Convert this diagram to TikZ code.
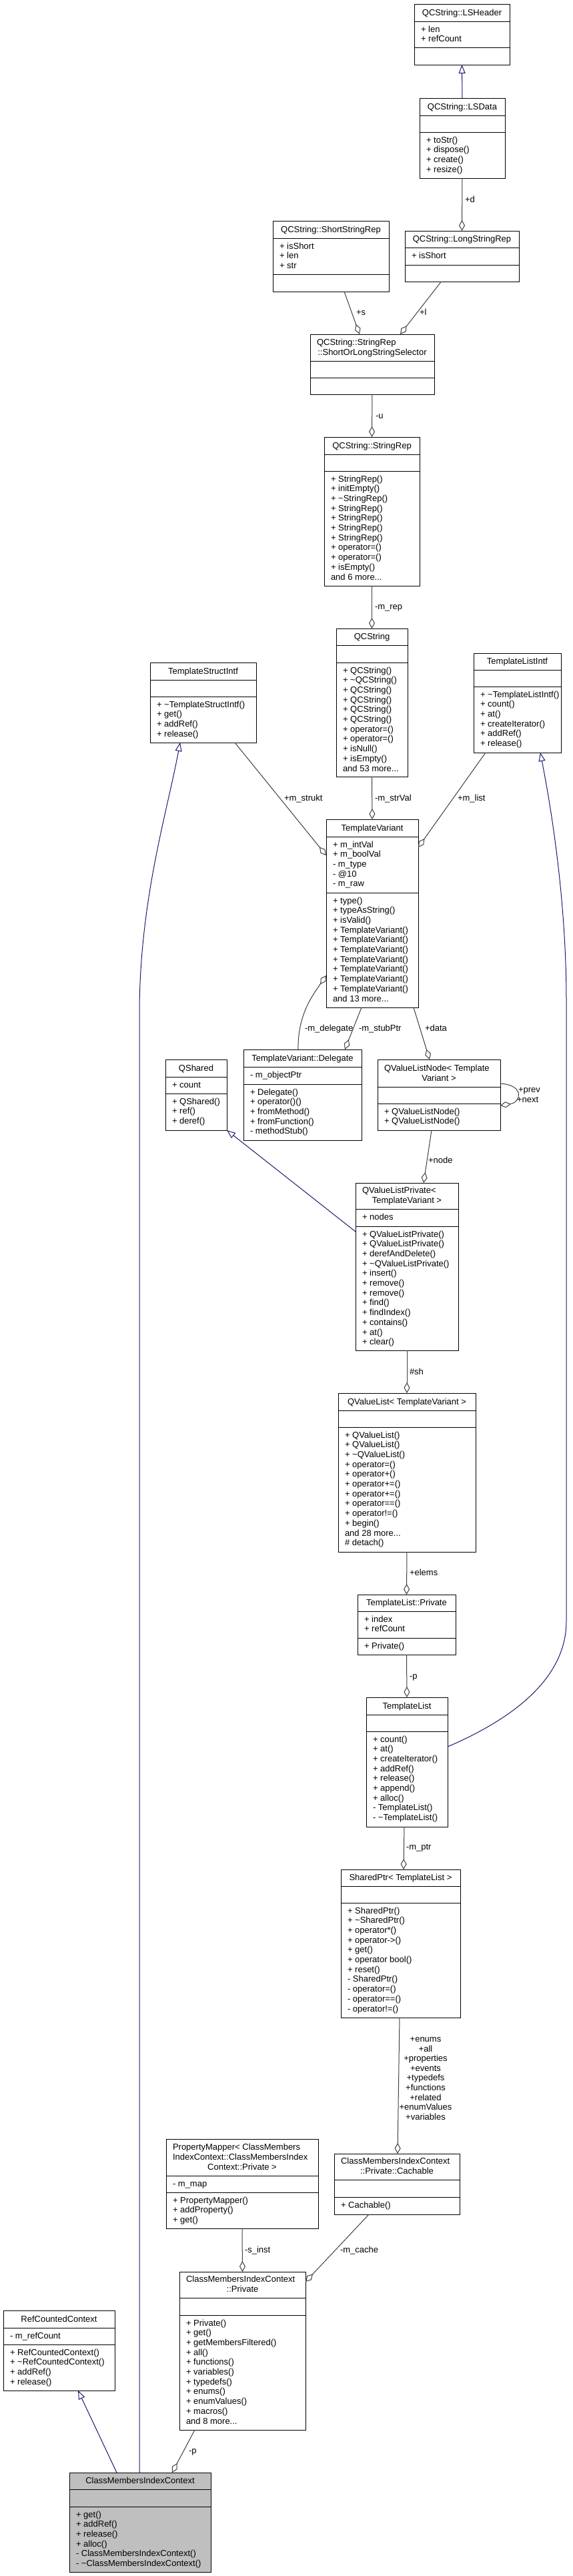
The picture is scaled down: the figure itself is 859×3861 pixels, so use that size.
\documentclass[tikz,border=0pt]{standalone}
\usepackage{fontspec}
\setmainfont{Liberation Sans}
\usetikzlibrary{arrows.meta}
\definecolor{edgegray}{HTML}{404040}
\definecolor{inhblue}{HTML}{191970}
\definecolor{mainfill}{HTML}{BFBFBF}
\newcommand\mydots{...}
\tikzset{
 clsbox/.style={draw=black, fill=white, line width=1pt, inner sep=0pt, outer sep=0pt, rectangle},
 divline/.style={draw=black, line width=1pt},
 txt/.style={inner sep=0pt, outer sep=0pt, font=\fontsize{13}{14.7}\selectfont, text=black},
 lbl/.style={txt, anchor=base west},
 assoc/.style={draw=edgegray, line width=1pt, -{Diamond[open,length=16pt,width=9pt]}},
 inherit/.style={draw=inhblue, line width=1pt, -{Triangle[open,length=13pt,width=10pt]}},
}
% name,left,top,right,bottom,div1,div2,fill
\newcommand\umlclass[8]{%
 \node[clsbox, fill=#8, minimum width={(#4-#2)*1pt}, minimum height={(#5-#3)*1pt}] (#1) at ({(#2+#4)/2},{(#3+#5)/2}) {};
 \draw[divline] (#2,#6) -- (#4,#6);
 \draw[divline] (#2,#7) -- (#4,#7);
}
% name,left,right,div1,text
\newcommand\utitle[5]{\node[txt,anchor=base] (#1-ttl) at ({(#2+#3)/2},{#4-9}) {#5};}
\newcommand\utitleII[6]{%
 \node[txt,anchor=base west] (#1-ttla) at ({#2+10},{#4-23.7}) {#5};
 \node[txt,anchor=base] (#1-ttlb) at ({(#2+#3)/2},{#4-9}) {#6};}
\newcommand\utitleIII[7]{%
 \node[txt,anchor=base west] (#1-ttla) at ({#2+10},{#4-38.4}) {#5};
 \node[txt,anchor=base west] (#1-ttlb) at ({#2+10},{#4-23.7}) {#6};
 \node[txt,anchor=base] (#1-ttlc) at ({(#2+#3)/2},{#4-9}) {#7};}
% prefix,left,div,list
\newcommand\umembers[4]{%
 \foreach \mem [count=\memi] in {#4} {\node[txt,anchor=base west] (#1-\memi) at ({#2+10},{#3+16+14.7*(\memi-1)}) {\mem};}}

\begin{document}
\begin{tikzpicture}[x=1pt,y=-1pt]
\fill[white] (0,0) rectangle (859,3861);
\useasboundingbox (0,0) rectangle (859,3861);

% ---------- classes ----------
\umlclass{lsheader}{621}{6}{764}{97}{32}{71}{white}
\utitle{lsheader}{621}{764}{32}{QCString::LSHeader}
\umembers{lsheader-a}{621}{32}{+ len, + refCount}

\umlclass{lsdata}{629}{147}{757}{267}{173}{198}{white}
\utitle{lsdata}{629}{757}{173}{QCString::LSData}
\umembers{lsdata-m}{629}{198}{+ toStr(), + dispose(), + create(), + resize()}

\umlclass{shortrep}{409}{331}{583}{437}{357}{411}{white}
\utitle{shortrep}{409}{583}{357}{QCString::ShortStringRep}
\umembers{shortrep-a}{409}{357}{+ isShort, + len, + str}

\umlclass{longrep}{607}{346}{778}{422}{371}{397}{white}
\utitle{longrep}{607}{778}{371}{QCString::LongStringRep}
\umembers{longrep-a}{607}{371}{+ isShort}

\umlclass{selector}{465}{501}{651}{591}{541}{566}{white}
\utitleII{selector}{465}{651}{541}{QCString::StringRep}{::ShortOrLongStringSelector}

\umlclass{stringrep}{486}{655}{629}{878}{681}{706}{white}
\utitle{stringrep}{486}{629}{681}{QCString::StringRep}
\umembers{stringrep-m}{486}{706}{+ StringRep(), + initEmpty(), + \textasciitilde StringRep(), + StringRep(), + StringRep(), + StringRep(), + StringRep(), + operator=(), + operator=(), + isEmpty(), and 6 more\mydots}

\umlclass{qcstring}{504}{942}{611}{1164}{967}{993}{white}
\utitle{qcstring}{504}{611}{967}{QCString}
\umembers{qcstring-m}{504}{993}{+ QCString(), + \textasciitilde QCString(), + QCString(), + QCString(), + QCString(), + QCString(), + operator=(), + operator=(), + isNull(), + isEmpty(), and 53 more\mydots}

\umlclass{tstructintf}{225}{993}{384}{1113}{1019}{1044}{white}
\utitle{tstructintf}{225}{384}{1019}{TemplateStructIntf}
\umembers{tstructintf-m}{225}{1044}{+ \textasciitilde TemplateStructIntf(), + get(), + addRef(), + release()}

\umlclass{tlistintf}{710}{979}{841}{1128}{1004}{1029}{white}
\utitle{tlistintf}{710}{841}{1004}{TemplateListIntf}
\umembers{tlistintf-m}{710}{1029}{+ \textasciitilde TemplateListIntf(), + count(), + at(), + createIterator(), + addRef(), + release()}

\umlclass{tvariant}{489}{1228}{627}{1510}{1254}{1338}{white}
\utitle{tvariant}{489}{627}{1254}{TemplateVariant}
\umembers{tvariant-a}{489}{1254}{+ m\_intVal, + m\_boolVal, - m\_type, - @10, - m\_raw}
\umembers{tvariant-m}{489}{1338}{+ type(), + typeAsString(), + isValid(), + TemplateVariant(), + TemplateVariant(), + TemplateVariant(), + TemplateVariant(), + TemplateVariant(), + TemplateVariant(), + TemplateVariant(), and 13 more\mydots}

\umlclass{delegate}{365}{1573}{542}{1709}{1599}{1625}{white}
\utitle{delegate}{365}{542}{1599}{TemplateVariant::Delegate}
\umembers{delegate-a}{365}{1599}{- m\_objectPtr}
\umembers{delegate-m}{365}{1625}{+ Delegate(), + operator()(), + fromMethod(), + fromFunction(), - methodStub()}

\umlclass{qshared}{248}{1588}{340}{1694}{1614}{1639}{white}
\utitle{qshared}{248}{340}{1614}{QShared}
\umembers{qshared-a}{248}{1614}{+ count}
\umembers{qshared-m}{248}{1639}{+ QShared(), + ref(), + deref()}

\umlclass{qvlnode}{566}{1588}{750}{1694}{1629}{1654}{white}
\utitleII{qvlnode}{566}{750}{1629}{QValueListNode< Template}{Variant >}
\umembers{qvlnode-m}{566}{1654}{+ QValueListNode(), + QValueListNode()}

\umlclass{qvlprivate}{533}{1773}{687}{2024}{1812}{1838}{white}
\utitleII{qvlprivate}{533}{687}{1812}{QValueListPrivate<}{TemplateVariant >}
\umembers{qvlprivate-a}{533}{1812}{+ nodes}
\umembers{qvlprivate-m}{533}{1838}{+ QValueListPrivate(), + QValueListPrivate(), + derefAndDelete(), + \textasciitilde QValueListPrivate(), + insert(), + remove(), + remove(), + find(), + findIndex(), + contains(), + at(), + clear()}

\umlclass{qvaluelist}{507}{2088}{713}{2326}{2114}{2139}{white}
\utitle{qvaluelist}{507}{713}{2114}{QValueList< TemplateVariant >}
\umembers{qvaluelist-m}{507}{2139}{+ QValueList(), + QValueList(), + \textasciitilde QValueList(), + operator=(), + operator+(), + operator+=(), + operator+=(), + operator==(), + operator!=(), + begin(), and 28 more\mydots, \# detach()}

\umlclass{tlprivate}{536}{2390}{683}{2480}{2415}{2455}{white}
\utitle{tlprivate}{536}{683}{2415}{TemplateList::Private}
\umembers{tlprivate-a}{536}{2415}{+ index, + refCount}
\umembers{tlprivate-m}{536}{2455}{+ Private()}

\umlclass{templatelist}{549}{2544}{671}{2738}{2570}{2595}{white}
\utitle{templatelist}{549}{671}{2570}{TemplateList}
\umembers{templatelist-m}{549}{2595}{+ count(), + at(), + createIterator(), + addRef(), + release(), + append(), + alloc(), - TemplateList(), - \textasciitilde TemplateList()}

\umlclass{sharedptr}{511}{2802}{690}{3024}{2827}{2852}{white}
\utitle{sharedptr}{511}{690}{2827}{SharedPtr< TemplateList >}
\umembers{sharedptr-m}{511}{2852}{+ SharedPtr(), + \textasciitilde SharedPtr(), + operator*(), + operator->(), + get(), + operator bool(), + reset(), - SharedPtr(), - operator=(), - operator==(), - operator!=()}

\umlclass{cachable}{501}{3228}{689}{3319}{3267}{3293}{white}
\utitleII{cachable}{501}{689}{3267}{ClassMembersIndexContext}{::Private::Cachable}
\umembers{cachable-m}{501}{3293}{+ Cachable()}

\umlclass{propmapper}{249}{3206}{477}{3340}{3261}{3286}{white}
\utitleIII{propmapper}{249}{477}{3261}{PropertyMapper< ClassMembers}{IndexContext::ClassMembersIndex}{Context::Private >}
\umembers{propmapper-a}{249}{3261}{- m\_map}
\umembers{propmapper-m}{249}{3286}{+ PropertyMapper(), + addProperty(), + get()}

\umlclass{private}{269}{3405}{458}{3642}{3444}{3470}{white}
\utitleII{private}{269}{458}{3444}{ClassMembersIndexContext}{::Private}
\umembers{private-m}{269}{3470}{+ Private(), + get(), + getMembersFiltered(), + all(), + functions(), + variables(), + typedefs(), + enums(), + enumValues(), + macros(), and 8 more\mydots}

\umlclass{refcounted}{5}{3463}{172}{3583}{3489}{3514}{white}
\utitle{refcounted}{5}{172}{3489}{RefCountedContext}
\umembers{refcounted-a}{5}{3489}{- m\_refCount}
\umembers{refcounted-m}{5}{3514}{+ RefCountedContext(), + \textasciitilde RefCountedContext(), + addRef(), + release()}

\umlclass{cmic}{104}{3706}{316}{3855}{3731}{3757}{mainfill}
\utitle{cmic}{104}{316}{3731}{ClassMembersIndexContext}
\umembers{cmic-m}{104}{3757}{+ get(), + addRef(), + release(), + alloc(), - ClassMembersIndexContext(), - \textasciitilde ClassMembersIndexContext()}

% ---------- connectors ----------
\draw[inherit] (lsdata.north) -- (lsheader.south);
\draw[assoc] (lsdata.south) -- (longrep.north);
\node[lbl] (l-d) at (697,303.5) {+d};

\draw[assoc] ([xshift=20pt]shortrep.south) -- ([xshift=-19pt]selector.north);
\node[lbl] (l-s) at (534,472.5) {+s};
\draw[assoc] ([xshift=-31pt]longrep.south) -- ([xshift=42pt]selector.north);
\node[lbl] (l-l) at (629,472.5) {+l};

\draw[assoc] (selector.south) -- (stringrep.north);
\node[lbl] (l-u) at (563,627.5) {-u};
\draw[assoc] (stringrep.south) -- (qcstring.north);
\node[lbl] (l-mrep) at (562,913.5) {-m\_rep};

\draw[assoc] ([xshift=47.5pt]tstructintf.south) -- ([yshift=-54pt]tvariant.north west);
\node[lbl] (l-strukt) at (426,1200.5) {+m\_strukt};
\draw[assoc] (qcstring.south) -- (tvariant.north);
\node[lbl] (l-strval) at (562,1200.5) {-m\_strVal};
\draw[assoc] ([xshift=-47.5pt]tlistintf.south) -- ([yshift=-42pt]tvariant.north east);
\node[lbl] (l-list) at (686,1200.5) {+m\_list};

\draw[inherit] ([xshift=-1pt]cmic.north) -- (209,1520) .. controls (209,1350) and (250,1220) .. ([xshift=-34.5pt]tstructintf.south);
\draw[inherit] ([yshift=23pt]templatelist.east) .. controls (760,2580) and (849,2520) .. (849,2430) -- (849,1500) .. controls (849,1330) and (820,1180) .. ([xshift=34.5pt]tlistintf.south);

\draw[assoc] ([xshift=-6.5pt]delegate.north) .. controls (446,1520) and (470,1490) .. ([yshift=-234pt]tvariant.north west);
\node[lbl] (l-deleg) at (457,1545.5) {-m\_delegate};
\draw[assoc] ([xshift=-16pt]tvariant.south) -- ([xshift=63.5pt]delegate.north);
\node[lbl] (l-stub) at (538,1545.5) {-m\_stubPtr};
\draw[assoc] ([xshift=62pt]tvariant.south) -- ([xshift=-14pt]qvlnode.north);
\node[lbl] (l-data) at (637,1545.5) {+data};

\draw[assoc] ([yshift=17pt]qvlnode.east) .. controls (786,1626) and (782,1652) .. ([yshift=-16pt]qvlnode.east);
\node[lbl] (l-prev) at (777,1637.5) {+prev};
\node[lbl] (l-next) at (775,1652.5) {+next};

\draw[assoc] ([xshift=-11pt]qvlnode.south) -- ([xshift=25pt]qvlprivate.north);
\node[lbl] (l-node) at (642,1743.5) {+node};
\draw[inherit] ([yshift=-73pt]qvlprivate.north west) -- (qshared.south east);

\draw[assoc] (qvlprivate.south) -- (qvaluelist.north);
\node[lbl] (l-sh) at (614,2060.5) {\#sh};
\draw[assoc] (qvaluelist.south) -- (tlprivate.north);
\node[lbl] (l-elems) at (614,2361.5) {+elems};
\draw[assoc] (tlprivate.south) -- (templatelist.north);
\node[lbl] (l-p1) at (614,2516.5) {-p};
\draw[assoc] ([xshift=-4pt]templatelist.south) -- ([xshift=4.5pt]sharedptr.north);
\node[lbl] (l-mptr) at (609,2772.5) {-m\_ptr};

\draw[assoc] ([xshift=-1.5pt]sharedptr.south) -- ([xshift=1pt]cachable.north);
\foreach \lab [count=\labi] in {+enums, +all, +properties, +events, +typedefs, +functions, +related, +enumValues, +variables}
 {\node[txt,anchor=base] (l-multi-\labi) at (638,{3060.5+14.6*(\labi-1)}) {\lab};}

\draw[assoc] (propmapper.south) -- (private.north);
\node[lbl] (l-sinst) at (367,3376.5) {-s\_inst};
\draw[assoc] ([xshift=-42pt]cachable.south) -- ([yshift=-15pt]private.north east);
\node[lbl] (l-mcache) at (510,3376.5) {-m\_cache};
\draw[assoc] ([xshift=-71.5pt]private.south) -- ([xshift=48pt]cmic.north);
\node[lbl] (l-p2) at (283,3677.5) {-p};
\draw[inherit] ([xshift=-35pt]cmic.north) -- ([xshift=28.5pt]refcounted.south);
\end{tikzpicture}
\end{document}
